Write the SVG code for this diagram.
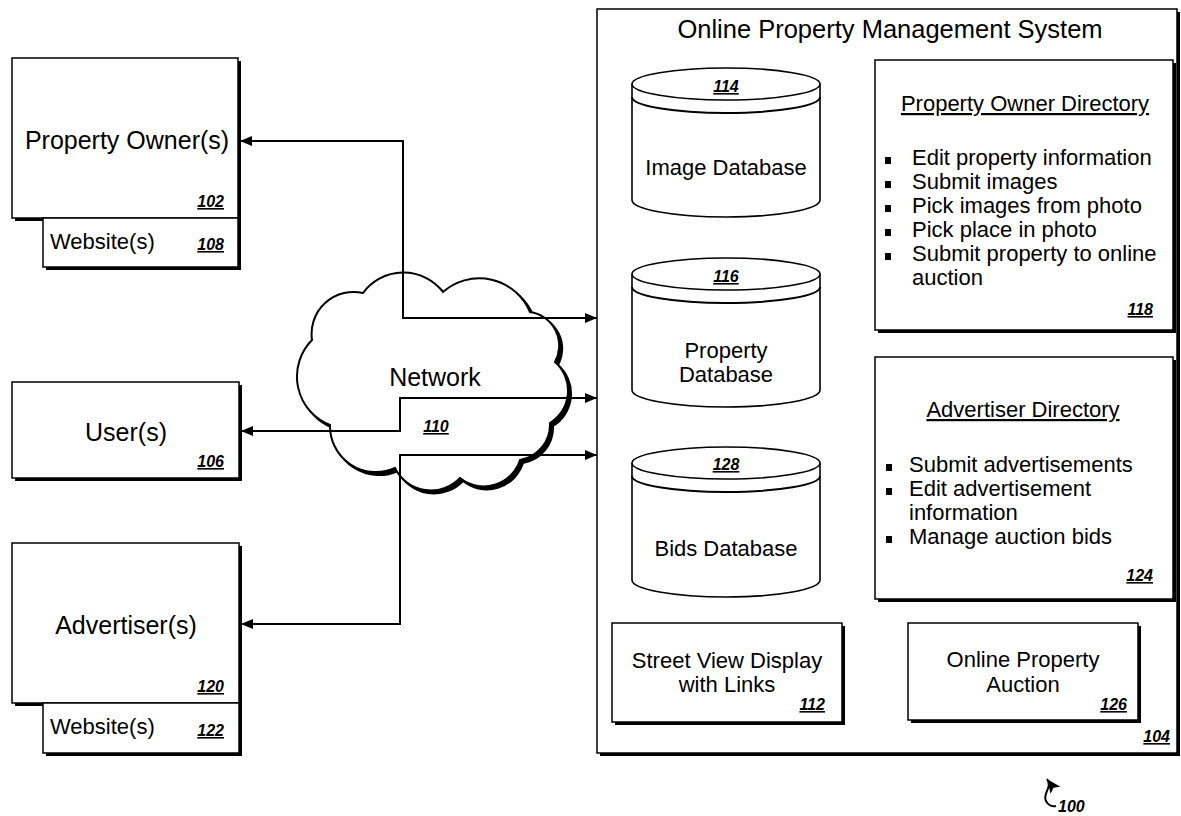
<svg xmlns="http://www.w3.org/2000/svg" width="1181" height="816" viewBox="0 0 1181 816">
<style>
text{font-family:"Liberation Sans",Arial,sans-serif;fill:#000}
.big{font-size:25px}
.ttl{font-size:25.5px}
.mid{font-size:22px}
.num{font-size:16px;font-style:italic;font-weight:bold;text-decoration:underline}
.c{text-anchor:middle}
.r{text-anchor:end}
.u{text-decoration:underline}
.box{fill:#fff;stroke:#000;stroke-width:1.5}
.shd{fill:#000}
.ln{fill:none;stroke:#000;stroke-width:2}
.cyl{fill:#fff;stroke:#000;stroke-width:1.6}
.blt{fill:#000}
</style>
<defs>
<marker id="ah" viewBox="0 0 12 10" refX="12" refY="5" markerWidth="12" markerHeight="10" markerUnits="userSpaceOnUse" orient="auto-start-reverse">
<path d="M0,0 L12,5 L0,10 z" fill="#000"/>
</marker>
<marker id="ah2" viewBox="0 0 14 12" refX="14" refY="6" markerWidth="14" markerHeight="12" markerUnits="userSpaceOnUse" orient="auto-start-reverse">
<path d="M0,0 L14,6 L0,12 L3,6 z" fill="#000"/>
</marker>
</defs>

<g id="system-104">
<rect class="shd" x="600" y="12" width="580" height="744"/>
<rect class="box" x="597" y="9" width="580" height="744"/>
<text class="ttl c" x="890" y="38">Online Property Management System</text>
<text class="num r" x="1170" y="742">104</text>
</g>

<g id="cloud-110">
<path transform="translate(3,3)" fill="#000" stroke="#000" stroke-width="2" d="M312,340 A42,42 0 0 1 363,293 A50,50 0 0 1 443,292 A55,55 0 0 1 530,312 A34,34 0 0 1 555,362 A38,38 0 0 1 550,423 A36,36 0 0 1 520,460 A38,38 0 0 1 460,478 A40,40 0 0 1 395,468 A46,46 0 0 1 330,425 A52,52 0 0 1 312,340 Z"/>
<path fill="#fff" stroke="#000" stroke-width="2" d="M312,340 A42,42 0 0 1 363,293 A50,50 0 0 1 443,292 A55,55 0 0 1 530,312 A34,34 0 0 1 555,362 A38,38 0 0 1 550,423 A36,36 0 0 1 520,460 A38,38 0 0 1 460,478 A40,40 0 0 1 395,468 A46,46 0 0 1 330,425 A52,52 0 0 1 312,340 Z"/>
<text class="big c" x="435" y="386">Network</text>
<text class="num c" x="436" y="432">110</text>
</g>

<g id="property-owner-102">
<rect class="shd" x="15" y="61" width="226" height="160"/>
<rect class="box" x="12" y="58" width="226" height="160"/>
<text class="big c" x="127" y="149">Property Owner(s)</text>
<text class="num r" x="224" y="207">102</text>
</g>
<g id="website-108">
<rect class="shd" x="46" y="221" width="195" height="49"/>
<rect class="box" x="43" y="218" width="195" height="49"/>
<text class="mid" x="50" y="249">Website(s)</text>
<text class="num r" x="224" y="250">108</text>
</g>

<g id="users-106">
<rect class="shd" x="15" y="385" width="227" height="96"/>
<rect class="box" x="12" y="382" width="227" height="96"/>
<text class="big c" x="126" y="441">User(s)</text>
<text class="num r" x="224" y="467">106</text>
</g>

<g id="advertiser-120">
<rect class="shd" x="15" y="546" width="227" height="160"/>
<rect class="box" x="12" y="543" width="227" height="160"/>
<text class="big c" x="126" y="634">Advertiser(s)</text>
<text class="num r" x="224" y="692">120</text>
</g>
<g id="website-122">
<rect class="shd" x="46" y="706" width="196" height="50"/>
<rect class="box" x="43" y="703" width="196" height="50"/>
<text class="mid" x="50" y="734">Website(s)</text>
<text class="num r" x="224" y="736">122</text>
</g>

<g id="image-db-114">
<path class="cyl" d="M632,84 L632,200 A94,17 0 0 0 820,200 L820,84"/>
<ellipse class="cyl" cx="726" cy="84" rx="94" ry="16"/>
<path class="ln" stroke-width="1.6" d="M632,97 A94,16 0 0 0 820,97"/>
<text class="num c" x="726" y="92">114</text>
<text class="mid c" x="726" y="175">Image Database</text>
</g>

<g id="property-db-116">
<path class="cyl" d="M632,274 L632,390 A94,17 0 0 0 820,390 L820,274"/>
<ellipse class="cyl" cx="726" cy="274" rx="94" ry="16"/>
<path class="ln" stroke-width="1.6" d="M632,287 A94,16 0 0 0 820,287"/>
<text class="num c" x="726" y="282">116</text>
<text class="mid c" x="726" y="358">Property</text>
<text class="mid c" x="726" y="382">Database</text>
</g>

<g id="bids-db-128">
<path class="cyl" d="M632,463 L632,580 A94,17 0 0 0 820,580 L820,463"/>
<ellipse class="cyl" cx="726" cy="463" rx="94" ry="16"/>
<path class="ln" stroke-width="1.6" d="M632,476 A94,16 0 0 0 820,476"/>
<text class="num c" x="726" y="470">128</text>
<text class="mid c" x="726" y="556">Bids Database</text>
</g>

<g id="owner-directory-118">
<rect class="shd" x="878" y="63" width="298" height="270"/>
<rect class="box" x="875" y="60" width="298" height="270"/>
<text class="mid c u" x="1025" y="111">Property Owner Directory</text>
<rect class="blt" x="885" y="157" width="6" height="7"/>
<text class="mid" x="912" y="165">Edit property information</text>
<rect class="blt" x="885" y="181" width="6" height="7"/>
<text class="mid" x="912" y="189">Submit images</text>
<rect class="blt" x="885" y="205" width="6" height="7"/>
<text class="mid" x="912" y="213">Pick images from photo</text>
<rect class="blt" x="885" y="229" width="6" height="7"/>
<text class="mid" x="912" y="237">Pick place in photo</text>
<rect class="blt" x="885" y="253" width="6" height="7"/>
<text class="mid" x="912" y="261">Submit property to online</text>
<text class="mid" x="912" y="285">auction</text>
<text class="num r" x="1153" y="315">118</text>
</g>

<g id="advertiser-directory-124">
<rect class="shd" x="878" y="360" width="298" height="242"/>
<rect class="box" x="875" y="357" width="298" height="242"/>
<text class="mid c u" x="1023" y="417">Advertiser Directory</text>
<rect class="blt" x="886" y="464" width="6" height="7"/>
<text class="mid" x="909" y="472">Submit advertisements</text>
<rect class="blt" x="886" y="488" width="6" height="7"/>
<text class="mid" x="909" y="496">Edit advertisement</text>
<text class="mid" x="909" y="520">information</text>
<rect class="blt" x="886" y="536" width="6" height="7"/>
<text class="mid" x="909" y="544">Manage auction bids</text>
<text class="num r" x="1153" y="581">124</text>
</g>

<g id="street-view-112">
<rect class="shd" x="615" y="626" width="230" height="99"/>
<rect class="box" x="612" y="623" width="230" height="99"/>
<text class="mid c" x="727" y="668">Street View Display</text>
<text class="mid c" x="727" y="692">with Links</text>
<text class="num r" x="825" y="710">112</text>
</g>

<g id="auction-126">
<rect class="shd" x="911" y="626" width="230" height="97"/>
<rect class="box" x="908" y="623" width="230" height="97"/>
<text class="mid c" x="1023" y="667">Online Property</text>
<text class="mid c" x="1023" y="692">Auction</text>
<text class="num r" x="1127" y="710">126</text>
</g>

<g id="connectors">
<polyline class="ln" points="240,141 403,141 403,318 597,318" marker-start="url(#ah)" marker-end="url(#ah)"/>
<polyline class="ln" points="241,431 400,431 400,398 597,398" marker-start="url(#ah)" marker-end="url(#ah)"/>
<polyline class="ln" points="241,624 400,624 400,455 597,455" marker-start="url(#ah)" marker-end="url(#ah)"/>
</g>

<g id="ref-100">
<path class="ln" stroke-width="1.8" d="M1047,779 C1053,787 1042,794 1046,801 C1048,805 1052,807 1056,806" marker-start="url(#ah2)"/>
<text class="num" x="1058" y="812" style="text-decoration:none">100</text>
</g>
</svg>
